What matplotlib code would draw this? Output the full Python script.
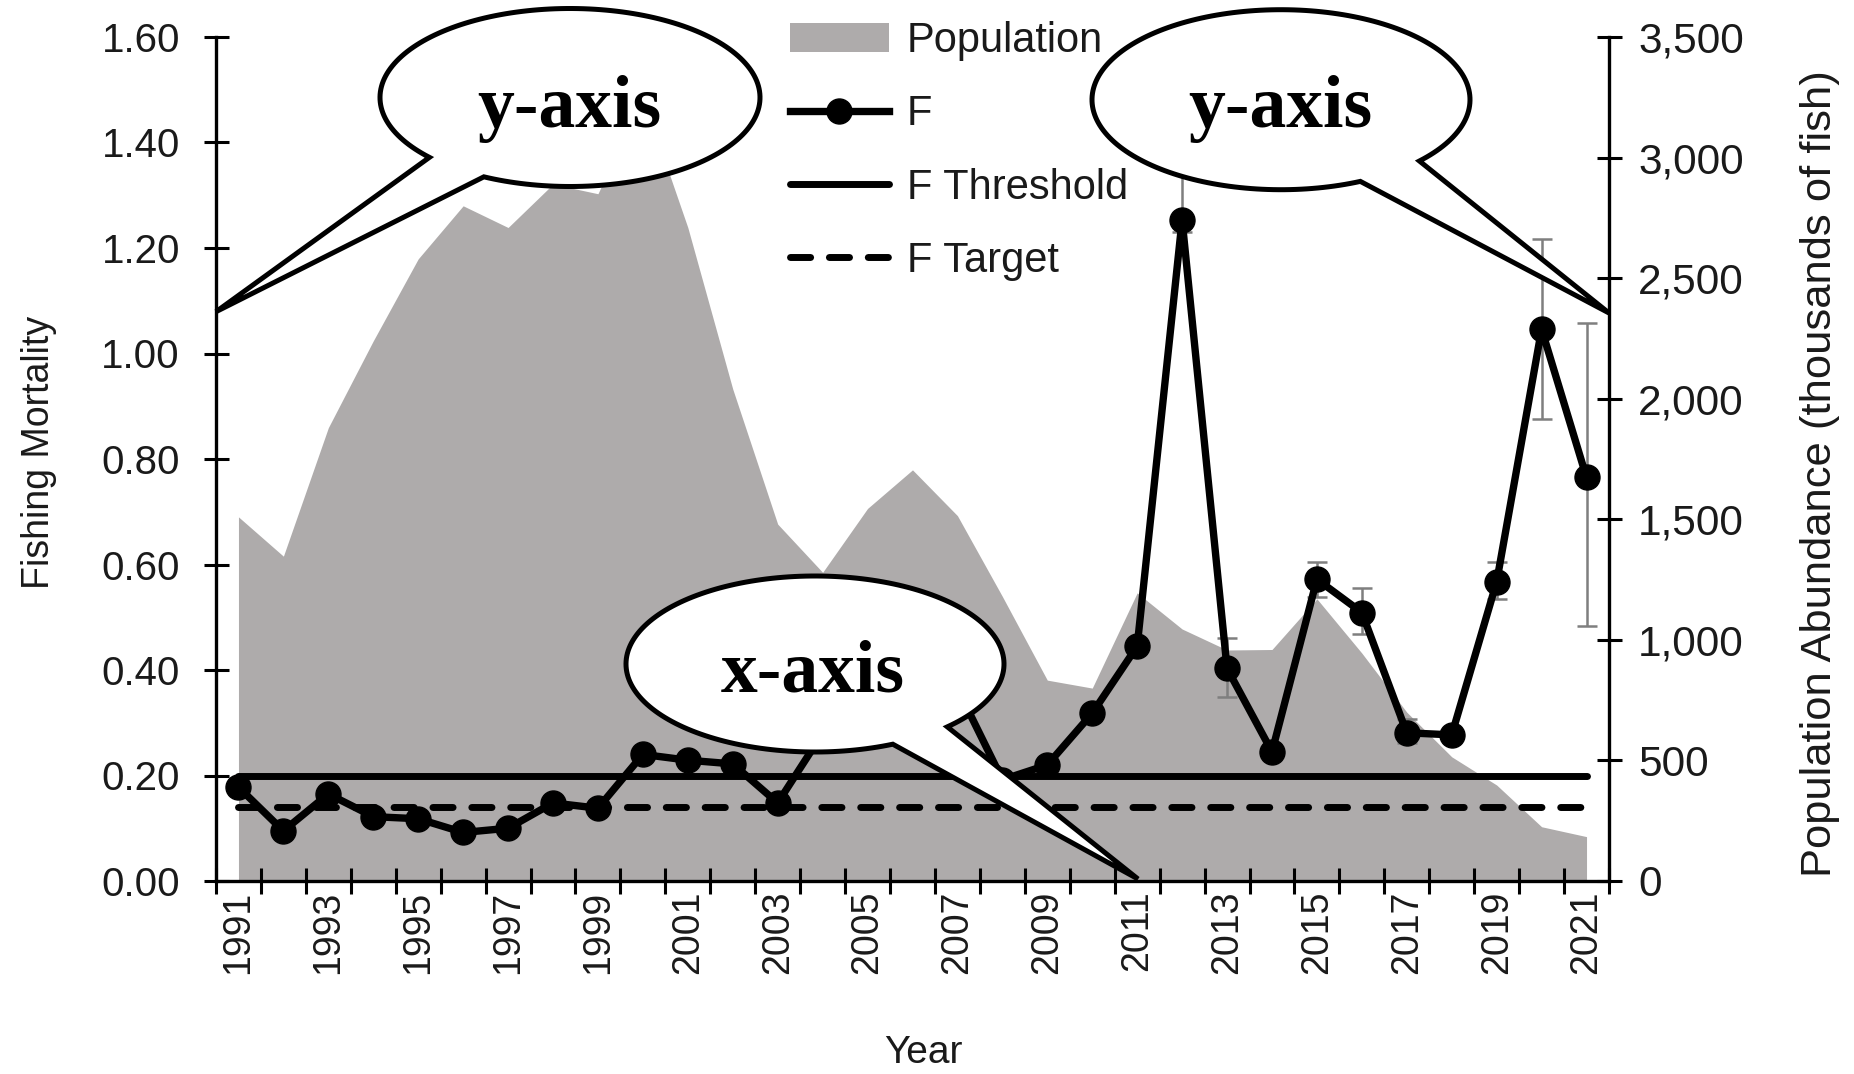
import numpy as np
import matplotlib
matplotlib.use('Agg')
import matplotlib.pyplot as plt
from matplotlib.patches import Polygon
from matplotlib.transforms import IdentityTransform
from matplotlib.ticker import FuncFormatter

plt.rcParams['font.family'] = ['Liberation Sans', 'DejaVu Sans']

# Data
years = np.arange(1991, 2022)
population = [1510, 1347, 1880, 2240, 2580, 2800, 2710, 2890, 2850, 3250,
              2710, 2040, 1480, 1280, 1545, 1705, 1515, 1180, 833, 800,
              1195, 1045, 958, 960, 1170, 945, 700, 515, 398, 225, 184]
f_values = [0.178, 0.095, 0.165, 0.122, 0.118, 0.092, 0.100, 0.148, 0.138, 0.240,
            0.229, 0.222, 0.148, 0.280, 0.310, 0.400, 0.365, 0.192, 0.220, 0.318,
            0.445, 1.253, 0.403, 0.245, 0.572, 0.509, 0.281, 0.277, 0.567, 1.046,
            0.765]
err_years = [2012, 2013, 2015, 2016, 2017, 2019, 2020, 2021]
err_low = [1.23, 0.348, 0.539, 0.468, 0.262, 0.534, 0.875, 0.483]
err_high = [1.38, 0.460, 0.605, 0.555, 0.307, 0.605, 1.218, 1.057]
f_threshold = 0.20
f_target = 0.14

W, H = 1854, 1074
fig = plt.figure(figsize=(W / 100, H / 100), dpi=100)
ax = fig.add_axes([216 / W, 1 - 881 / H, (1609 - 216) / W, (881 - 37) / H])
ax2 = ax.twinx()
ax.set_zorder(ax2.get_zorder() + 1)
ax.patch.set_visible(False)

gray = '#aeabab'
txt = '#1a1a1a'

# population area on the right axis
pop_area = ax2.fill_between(years, population, color=gray, lw=0, label='Population')
ax2.set_ylim(0, 3500)
ax2.set_yticks(np.arange(0, 3501, 500))
ax2.yaxis.set_major_formatter(FuncFormatter(lambda v, p: f'{int(v):,}'))

# fishing mortality on the left axis
f_idx = [list(years).index(y) for y in err_years]
f_at_err = np.array([f_values[i] for i in f_idx])
ax.errorbar(err_years, f_at_err,
            yerr=[f_at_err - np.array(err_low), np.array(err_high) - f_at_err],
            fmt='none', ecolor='#7f7f7f', elinewidth=1.8, capsize=7, capthick=1.8, zorder=2)
thr, = ax.plot(years, [f_threshold] * len(years), color='black', lw=5,
               solid_capstyle='round', label='F Threshold', zorder=3)
tgt, = ax.plot(years, [f_target] * len(years), color='black', lw=5,
               linestyle=(0, (2.9, 2.7)), dash_capstyle='round', label='F Target', zorder=3)
fl, = ax.plot(years, f_values, color='black', lw=5.3, marker='o', markersize=18,
              label='F', zorder=4)

ax.set_xlim(1990.5, 2021.5)
ax.set_ylim(0, 1.6)
ax.set_yticks(np.arange(0, 1.61, 0.2))
ax.yaxis.set_major_formatter(FuncFormatter(lambda v, p: f'{v:.2f}'))

# category style x axis: ticks at boundaries, labels every other year
ax.set_xticks(np.arange(1990.5, 2022, 1))
ax.set_xticks(years[::2], [str(y) for y in years[::2]], minor=True)
ax.tick_params(axis='x', which='major', direction='inout', length=19, width=2.2,
               labelbottom=False)
ax.tick_params(axis='x', which='minor', length=0, labelrotation=90, labelsize=27,
               pad=7, labelcolor=txt)
ax.tick_params(axis='y', direction='inout', length=18, width=2.2, labelsize=29,
               pad=17, labelcolor=txt)
ax2.tick_params(axis='y', direction='inout', length=18, width=2.2, labelsize=30.5,
                pad=12, labelcolor=txt)

for s in ['top', 'right']:
    ax.spines[s].set_visible(False)
for s in ['top', 'left', 'bottom']:
    ax2.spines[s].set_visible(False)
ax.spines['left'].set_linewidth(2.4)
ax.spines['bottom'].set_linewidth(2.4)
ax2.spines['right'].set_linewidth(2.4)

ax.set_xlabel('Year', fontsize=28, color=txt, va='top')
ax.xaxis.set_label_coords(0.508, -0.1825)
ax.set_ylabel('Fishing Mortality', fontsize=27, color=txt, va='center')
ax.yaxis.set_label_coords(-0.1274, 0.508)
ax2.set_ylabel('Population Abundance (thousands of fish)', fontsize=31.3, color=txt,
               va='center')
ax2.yaxis.set_label_coords(1.1515, 0.483)

leg = ax.legend([pop_area, fl, thr, tgt], ['Population', 'F', 'F Threshold', 'F Target'],
                loc='upper left', bbox_to_anchor=(790 / W, 1 - 21 / H),
                bbox_transform=fig.transFigure, frameon=False, fontsize=30,
                handlelength=2.37, handletextpad=0.43, labelspacing=0.80,
                borderpad=0, borderaxespad=0, numpoints=1)
for t in leg.get_texts():
    t.set_color(txt)


# speech bubble callouts, geometry in pixels from the top-left corner
def bubble(cx, cy, rx, ry, b1, b2, tip, label, tx, ty):
    a1 = np.arctan2((b1[1] - cy) / ry, (b1[0] - cx) / rx)
    a2 = np.arctan2((b2[1] - cy) / ry, (b2[0] - cx) / rx)
    if (a2 - a1) % (2 * np.pi) > np.pi:
        a1, a2 = a2, a1
    start = a2
    stop = a1 + 2 * np.pi * np.ceil((a2 - a1) / (2 * np.pi) + 1e-9)
    t = np.linspace(start, stop, 200)
    px = cx + rx * np.cos(t)
    py = cy + ry * np.sin(t)
    pts = np.column_stack([np.append(px, tip[0]), H - np.append(py, tip[1])])
    fig.add_artist(Polygon(pts, closed=True, facecolor='white', edgecolor='black',
                           lw=3.6, joinstyle='miter', transform=IdentityTransform(),
                           zorder=10))
    fig.text(tx / W, 1 - ty / H, label, family=['Liberation Serif', 'DejaVu Serif'],
             fontweight='bold', fontsize=53, ha='center', va='baseline', zorder=11)


bubble(570, 97.5, 190, 89, (431, 156.7), (484, 176.7), (216, 311.7), 'y-axis', 569, 127)
bubble(1281, 99.7, 189, 90, (1421, 161.7), (1359, 180), (1609, 313), 'y-axis', 1280, 127)
bubble(815, 664, 189, 88, (947, 726.7), (893.6, 745), (1138, 879), 'x-axis', 813, 692)

fig.savefig('out.png', dpi=100)
